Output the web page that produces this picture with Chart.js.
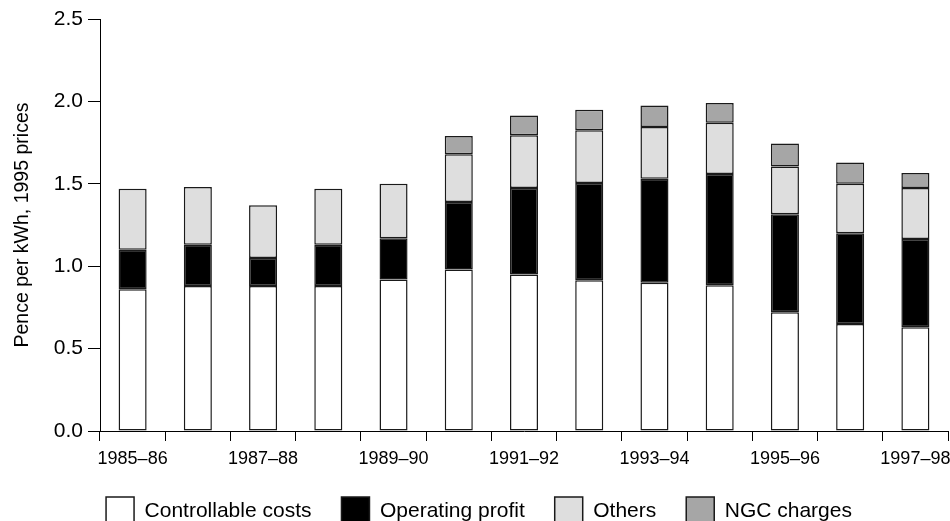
<!DOCTYPE html>
<html>
<head>
<meta charset="utf-8">
<script src="https://cdn.jsdelivr.net/npm/chart.js@4.4.1/dist/chart.umd.min.js"></script>
<style>
  html, body { margin: 0; padding: 0; overflow: hidden; background: #fff; }
  #wrap { width: 950px; height: 535px; }
</style>
</head>
<body>
<div id="wrap"><canvas id="costChart"></canvas></div>
<script>
const years = ["1985–86", "1986–87", "1987–88", "1988–89", "1989–90", "1990–91", "1991–92",
  "1992–93", "1993–94", "1994–95", "1995–96", "1996–97", "1997–98"];

const controllableCosts = [0.86, 0.88, 0.88, 0.88, 0.92, 0.98, 0.95, 0.915, 0.90, 0.885, 0.72, 0.65, 0.63];
const operatingProfit = [0.24, 0.25, 0.17, 0.25, 0.25, 0.41, 0.525, 0.59, 0.63, 0.675, 0.595, 0.55, 0.535];
const others = [0.37, 0.35, 0.32, 0.34, 0.33, 0.29, 0.32, 0.32, 0.315, 0.31, 0.29, 0.30, 0.31];
const ngcCharges = [null, null, null, null, null, 0.11, 0.12, 0.125, 0.13, 0.12, 0.14, 0.13, 0.09];

const yTicks = [0, 0.5, 1.0, 1.5, 2.0, 2.5];

Chart.defaults.font.family = "'Liberation Sans', Arial, sans-serif";
Chart.defaults.color = "#000";

function bar(label, data, fill) {
  return {
    label: label,
    data: data,
    backgroundColor: fill,
    borderColor: "#1a1a1a",
    borderWidth: 1.5,
    borderSkipped: false,
    barPercentage: 0.43,
    categoryPercentage: 1.0,
  };
}

const ctx = document.getElementById("costChart");

new Chart(ctx, {
  type: "bar",
  data: {
    labels: years,
    datasets: [
      bar("Controllable costs", controllableCosts, "#ffffff"),
      bar("Operating profit", operatingProfit, "#000000"),
      bar("Others", others, "#dedede"),
      bar("NGC charges", ngcCharges, "#a6a6a6"),
    ],
  },
  options: {
    responsive: true,
    maintainAspectRatio: false,
    animation: false,
    layout: {
      padding: { left: 10, right: 2, top: 19, bottom: 0 },
    },
    plugins: {
      legend: {
        position: "bottom",
        labels: {
          boxWidth: 28,
          boxHeight: 28,
          padding: 30,
          font: { size: 21 },
          color: "#000",
        },
      },
      tooltip: { enabled: false },
    },
    scales: {
      x: {
        stacked: true,
        afterFit: (scale) => {
          scale.height = 36;
          // let the last label hang over the edge like the original
          scale.paddingLeft = 0;
          scale.paddingRight = 0;
        },
        border: { display: true, color: "#000", width: 1 },
        grid: {
          offset: true,
          drawOnChartArea: false,
          drawTicks: true,
          tickLength: 10,
          color: "#000",
        },
        ticks: {
          autoSkip: false,
          maxRotation: 0,
          padding: 7,
          font: { size: 18 },
          color: "#000",
          callback: function (value, index) {
            return index % 2 === 0 ? years[index] : "";
          },
        },
      },
      y: {
        stacked: true,
        min: 0,
        max: 2.5,
        afterFit: (scale) => { scale.width = 90; },
        afterBuildTicks: (scale) => {
          scale.ticks = yTicks.map((v) => ({ value: v }));
        },
        border: { display: true, color: "#000", width: 1 },
        grid: {
          drawOnChartArea: false,
          drawTicks: true,
          tickLength: 12,
          color: "#000",
        },
        ticks: {
          padding: 5,
          font: { size: 21 },
          color: "#000",
          callback: (value) => Number(value).toFixed(1),
        },
        title: {
          display: true,
          text: "Pence per kWh, 1995 prices",
          font: { size: 19.5 },
          color: "#000",
          padding: { top: 1, bottom: 0 },
        },
      },
    },
  },
});
</script>
</body>
</html>
